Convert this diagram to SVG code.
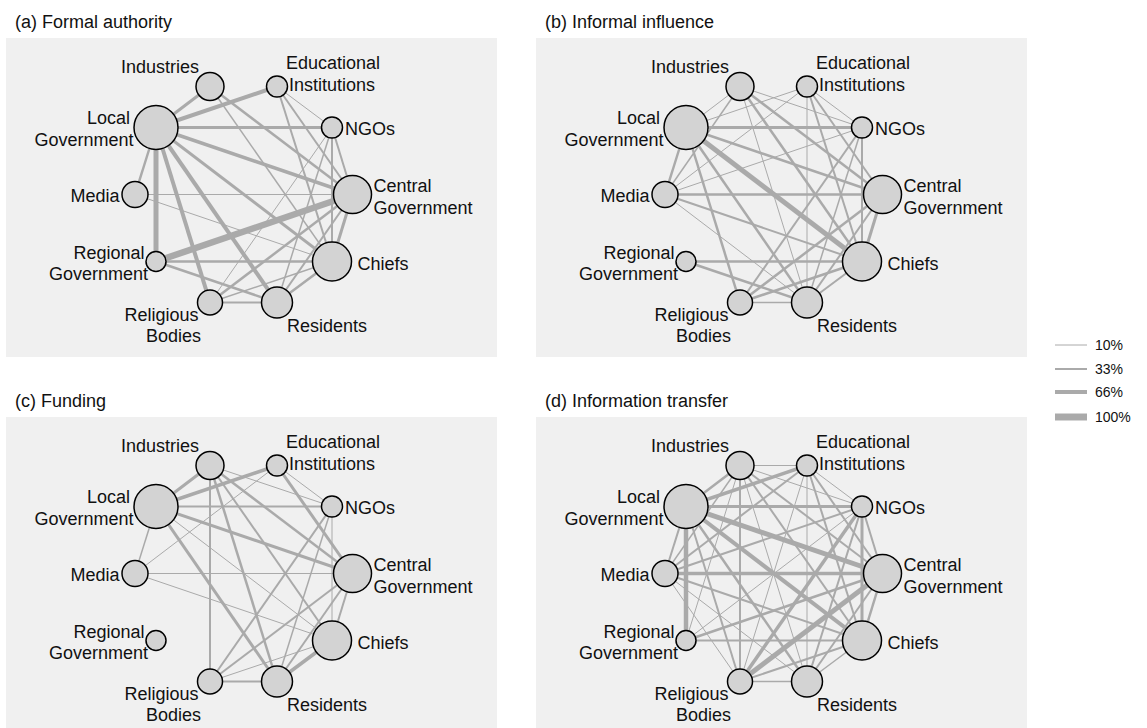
<svg xmlns="http://www.w3.org/2000/svg" width="1147" height="728" viewBox="0 0 1147 728">
<style>
.bg{fill:#f0f0f0}
.e line{stroke:#aaaaaa;stroke-linecap:butt}
.n{fill:#d3d3d3;stroke:#000;stroke-width:1.5}
text{font-family:"Liberation Sans",Arial,sans-serif;fill:#111}
.t{font-size:18px}
.ttl{font-size:18px}
.lg{font-size:14px}
</style>
<rect width="1147" height="728" fill="#fff"/>

<!-- Panel a -->
<g id="panel-a">
<text class="ttl" x="15" y="27.5">(a) Formal authority</text>
<rect class="bg" x="6" y="38" width="491" height="319"/>
<g id="a-edges" class="e">
<line x1="156" y1="127.5" x2="210" y2="86.5" stroke-width="3"/>
<line x1="156" y1="127.5" x2="277" y2="86.5" stroke-width="4"/>
<line x1="156" y1="127.5" x2="332" y2="127.5" stroke-width="3"/>
<line x1="156" y1="127.5" x2="352.5" y2="194.5" stroke-width="3.5"/>
<line x1="156" y1="127.5" x2="332" y2="261.5" stroke-width="3"/>
<line x1="156" y1="127.5" x2="277" y2="302.5" stroke-width="4"/>
<line x1="156" y1="127.5" x2="210" y2="302.5" stroke-width="4"/>
<line x1="156" y1="127.5" x2="156" y2="261.5" stroke-width="5"/>
<line x1="156" y1="127.5" x2="135" y2="194.5" stroke-width="2.5"/>
<line x1="210" y1="86.5" x2="352.5" y2="194.5" stroke-width="2.5"/>
<line x1="210" y1="86.5" x2="332" y2="261.5" stroke-width="1.5"/>
<line x1="277" y1="86.5" x2="332" y2="127.5" stroke-width="1"/>
<line x1="277" y1="86.5" x2="352.5" y2="194.5" stroke-width="2"/>
<line x1="277" y1="86.5" x2="332" y2="261.5" stroke-width="2"/>
<line x1="332" y1="127.5" x2="332" y2="261.5" stroke-width="2"/>
<line x1="332" y1="127.5" x2="277" y2="302.5" stroke-width="1.5"/>
<line x1="332" y1="127.5" x2="210" y2="302.5" stroke-width="1"/>
<line x1="332" y1="127.5" x2="352.5" y2="194.5" stroke-width="2"/>
<line x1="135" y1="194.5" x2="352.5" y2="194.5" stroke-width="1"/>
<line x1="135" y1="194.5" x2="332" y2="261.5" stroke-width="1"/>
<line x1="156" y1="261.5" x2="352.5" y2="194.5" stroke-width="6.5"/>
<line x1="156" y1="261.5" x2="332" y2="261.5" stroke-width="2.5"/>
<line x1="156" y1="261.5" x2="277" y2="302.5" stroke-width="2.5"/>
<line x1="210" y1="302.5" x2="352.5" y2="194.5" stroke-width="2.5"/>
<line x1="210" y1="302.5" x2="277" y2="302.5" stroke-width="2"/>
<line x1="210" y1="302.5" x2="332" y2="261.5" stroke-width="1.5"/>
<line x1="277" y1="302.5" x2="332" y2="261.5" stroke-width="2.5"/>
<line x1="277" y1="302.5" x2="352.5" y2="194.5" stroke-width="2"/>
<line x1="352.5" y1="194.5" x2="332" y2="261.5" stroke-width="3"/>
</g>
<g id="a-central"><circle class="n" cx="352.5" cy="194.5" r="19"/><text class="t" x="373.5" y="192">Central</text><text class="t" x="373.5" y="213.5">Government</text></g>
<g id="a-ngos"><circle class="n" cx="332" cy="127.5" r="10.5"/><text class="t" x="345" y="135">NGOs</text></g>
<g id="a-educational"><circle class="n" cx="277" cy="86.5" r="10.5"/><text class="t" x="286" y="69">Educational</text><text class="t" x="289" y="91">Institutions</text></g>
<g id="a-industries"><circle class="n" cx="210" cy="86.5" r="14"/><text class="t" x="199" y="73" text-anchor="end">Industries</text></g>
<g id="a-local"><circle class="n" cx="156" cy="127.5" r="22"/><text class="t" x="130" y="124" text-anchor="end">Local</text><text class="t" x="133.5" y="146" text-anchor="end">Government</text></g>
<g id="a-media"><circle class="n" cx="135" cy="194.5" r="13"/><text class="t" x="119.5" y="202" text-anchor="end">Media</text></g>
<g id="a-regional"><circle class="n" cx="156" cy="261.5" r="10"/><text class="t" x="144.5" y="259" text-anchor="end">Regional</text><text class="t" x="148" y="280" text-anchor="end">Government</text></g>
<g id="a-religious"><circle class="n" cx="210" cy="302.5" r="12.5"/><text class="t" x="198.5" y="321" text-anchor="end">Religious</text><text class="t" x="201" y="342" text-anchor="end">Bodies</text></g>
<g id="a-residents"><circle class="n" cx="277" cy="302.5" r="15.5"/><text class="t" x="287" y="332">Residents</text></g>
<g id="a-chiefs"><circle class="n" cx="332" cy="261.5" r="19.5"/><text class="t" x="357.5" y="270">Chiefs</text></g>
</g>

<!-- Panel b -->
<g id="panel-b" transform="translate(530,0)">
<text class="ttl" x="15" y="27.5">(b) Informal influence</text>
<rect class="bg" x="6" y="38" width="491" height="319"/>
<g id="b-edges" class="e">
<line x1="156" y1="127.5" x2="210" y2="86.5" stroke-width="1"/>
<line x1="156" y1="127.5" x2="277" y2="86.5" stroke-width="1"/>
<line x1="156" y1="127.5" x2="332" y2="127.5" stroke-width="3"/>
<line x1="156" y1="127.5" x2="352.5" y2="194.5" stroke-width="2.5"/>
<line x1="156" y1="127.5" x2="332" y2="261.5" stroke-width="5"/>
<line x1="156" y1="127.5" x2="277" y2="302.5" stroke-width="2.5"/>
<line x1="156" y1="127.5" x2="210" y2="302.5" stroke-width="2.5"/>
<line x1="156" y1="127.5" x2="135" y2="194.5" stroke-width="2.5"/>
<line x1="210" y1="86.5" x2="135" y2="194.5" stroke-width="1.5"/>
<line x1="210" y1="86.5" x2="332" y2="127.5" stroke-width="1"/>
<line x1="210" y1="86.5" x2="352.5" y2="194.5" stroke-width="2.5"/>
<line x1="210" y1="86.5" x2="332" y2="261.5" stroke-width="2.5"/>
<line x1="210" y1="86.5" x2="277" y2="302.5" stroke-width="1"/>
<line x1="277" y1="86.5" x2="135" y2="194.5" stroke-width="1"/>
<line x1="277" y1="86.5" x2="332" y2="127.5" stroke-width="1"/>
<line x1="277" y1="86.5" x2="352.5" y2="194.5" stroke-width="2"/>
<line x1="277" y1="86.5" x2="332" y2="261.5" stroke-width="2"/>
<line x1="277" y1="86.5" x2="277" y2="302.5" stroke-width="1"/>
<line x1="332" y1="127.5" x2="332" y2="261.5" stroke-width="2"/>
<line x1="332" y1="127.5" x2="210" y2="302.5" stroke-width="2"/>
<line x1="332" y1="127.5" x2="277" y2="302.5" stroke-width="1.5"/>
<line x1="332" y1="127.5" x2="135" y2="194.5" stroke-width="1"/>
<line x1="135" y1="194.5" x2="352.5" y2="194.5" stroke-width="2.5"/>
<line x1="135" y1="194.5" x2="332" y2="261.5" stroke-width="2"/>
<line x1="135" y1="194.5" x2="277" y2="302.5" stroke-width="1"/>
<line x1="156" y1="261.5" x2="332" y2="261.5" stroke-width="2.5"/>
<line x1="156" y1="261.5" x2="277" y2="302.5" stroke-width="2.5"/>
<line x1="210" y1="302.5" x2="277" y2="302.5" stroke-width="1.5"/>
<line x1="210" y1="302.5" x2="352.5" y2="194.5" stroke-width="2.5"/>
<line x1="210" y1="302.5" x2="332" y2="261.5" stroke-width="2.5"/>
<line x1="352.5" y1="194.5" x2="332" y2="261.5" stroke-width="3"/>
<line x1="277" y1="302.5" x2="352.5" y2="194.5" stroke-width="2"/>
<line x1="277" y1="302.5" x2="332" y2="261.5" stroke-width="2"/>
</g>
<g id="b-central"><circle class="n" cx="352.5" cy="194.5" r="19"/><text class="t" x="373.5" y="192">Central</text><text class="t" x="373.5" y="213.5">Government</text></g>
<g id="b-ngos"><circle class="n" cx="332" cy="127.5" r="10.5"/><text class="t" x="345" y="135">NGOs</text></g>
<g id="b-educational"><circle class="n" cx="277" cy="86.5" r="10.5"/><text class="t" x="286" y="69">Educational</text><text class="t" x="289" y="91">Institutions</text></g>
<g id="b-industries"><circle class="n" cx="210" cy="86.5" r="14"/><text class="t" x="199" y="73" text-anchor="end">Industries</text></g>
<g id="b-local"><circle class="n" cx="156" cy="127.5" r="22"/><text class="t" x="130" y="124" text-anchor="end">Local</text><text class="t" x="133.5" y="146" text-anchor="end">Government</text></g>
<g id="b-media"><circle class="n" cx="135" cy="194.5" r="13"/><text class="t" x="119.5" y="202" text-anchor="end">Media</text></g>
<g id="b-regional"><circle class="n" cx="156" cy="261.5" r="10"/><text class="t" x="144.5" y="259" text-anchor="end">Regional</text><text class="t" x="148" y="280" text-anchor="end">Government</text></g>
<g id="b-religious"><circle class="n" cx="210" cy="302.5" r="12.5"/><text class="t" x="198.5" y="321" text-anchor="end">Religious</text><text class="t" x="201" y="342" text-anchor="end">Bodies</text></g>
<g id="b-residents"><circle class="n" cx="277" cy="302.5" r="15.5"/><text class="t" x="287" y="332">Residents</text></g>
<g id="b-chiefs"><circle class="n" cx="332" cy="261.5" r="19.5"/><text class="t" x="357.5" y="270">Chiefs</text></g>
</g>

<!-- Panel c -->
<g id="panel-c" transform="translate(0,379)">
<text class="ttl" x="15" y="27.5">(c) Funding</text>
<rect class="bg" x="6" y="38" width="491" height="319"/>
<g id="c-edges" class="e">
<line x1="156" y1="127.5" x2="210" y2="86.5" stroke-width="3"/>
<line x1="156" y1="127.5" x2="277" y2="86.5" stroke-width="3.5"/>
<line x1="156" y1="127.5" x2="332" y2="127.5" stroke-width="2"/>
<line x1="156" y1="127.5" x2="352.5" y2="194.5" stroke-width="3"/>
<line x1="156" y1="127.5" x2="277" y2="302.5" stroke-width="3"/>
<line x1="156" y1="127.5" x2="135" y2="194.5" stroke-width="1.5"/>
<line x1="156" y1="127.5" x2="332" y2="261.5" stroke-width="1"/>
<line x1="210" y1="86.5" x2="210" y2="302.5" stroke-width="2"/>
<line x1="210" y1="86.5" x2="277" y2="302.5" stroke-width="2.5"/>
<line x1="210" y1="86.5" x2="332" y2="261.5" stroke-width="2"/>
<line x1="210" y1="86.5" x2="352.5" y2="194.5" stroke-width="2.5"/>
<line x1="210" y1="86.5" x2="332" y2="127.5" stroke-width="1"/>
<line x1="277" y1="86.5" x2="352.5" y2="194.5" stroke-width="3"/>
<line x1="277" y1="86.5" x2="332" y2="127.5" stroke-width="1"/>
<line x1="277" y1="86.5" x2="135" y2="194.5" stroke-width="1"/>
<line x1="332" y1="127.5" x2="210" y2="302.5" stroke-width="2"/>
<line x1="332" y1="127.5" x2="277" y2="302.5" stroke-width="1.5"/>
<line x1="332" y1="127.5" x2="332" y2="261.5" stroke-width="1"/>
<line x1="135" y1="194.5" x2="352.5" y2="194.5" stroke-width="1"/>
<line x1="135" y1="194.5" x2="332" y2="261.5" stroke-width="1"/>
<line x1="210" y1="302.5" x2="277" y2="302.5" stroke-width="2"/>
<line x1="210" y1="302.5" x2="352.5" y2="194.5" stroke-width="2"/>
<line x1="210" y1="302.5" x2="332" y2="261.5" stroke-width="1"/>
<line x1="277" y1="302.5" x2="332" y2="261.5" stroke-width="3.5"/>
<line x1="277" y1="302.5" x2="352.5" y2="194.5" stroke-width="2"/>
<line x1="352.5" y1="194.5" x2="332" y2="261.5" stroke-width="2"/>
</g>
<g id="c-central"><circle class="n" cx="352.5" cy="194.5" r="19"/><text class="t" x="373.5" y="192">Central</text><text class="t" x="373.5" y="213.5">Government</text></g>
<g id="c-ngos"><circle class="n" cx="332" cy="127.5" r="10.5"/><text class="t" x="345" y="135">NGOs</text></g>
<g id="c-educational"><circle class="n" cx="277" cy="86.5" r="10.5"/><text class="t" x="286" y="69">Educational</text><text class="t" x="289" y="91">Institutions</text></g>
<g id="c-industries"><circle class="n" cx="210" cy="86.5" r="14"/><text class="t" x="199" y="73" text-anchor="end">Industries</text></g>
<g id="c-local"><circle class="n" cx="156" cy="127.5" r="22"/><text class="t" x="130" y="124" text-anchor="end">Local</text><text class="t" x="133.5" y="146" text-anchor="end">Government</text></g>
<g id="c-media"><circle class="n" cx="135" cy="194.5" r="13"/><text class="t" x="119.5" y="202" text-anchor="end">Media</text></g>
<g id="c-regional"><circle class="n" cx="156" cy="261.5" r="10"/><text class="t" x="144.5" y="259" text-anchor="end">Regional</text><text class="t" x="148" y="280" text-anchor="end">Government</text></g>
<g id="c-religious"><circle class="n" cx="210" cy="302.5" r="12.5"/><text class="t" x="198.5" y="321" text-anchor="end">Religious</text><text class="t" x="201" y="342" text-anchor="end">Bodies</text></g>
<g id="c-residents"><circle class="n" cx="277" cy="302.5" r="15.5"/><text class="t" x="287" y="332">Residents</text></g>
<g id="c-chiefs"><circle class="n" cx="332" cy="261.5" r="19.5"/><text class="t" x="357.5" y="270">Chiefs</text></g>
</g>

<!-- Panel d -->
<g id="panel-d" transform="translate(530,379)">
<text class="ttl" x="15" y="27.5">(d) Information transfer</text>
<rect class="bg" x="6" y="38" width="491" height="319"/>
<g id="d-edges" class="e">
<line x1="156" y1="127.5" x2="210" y2="86.5" stroke-width="2.5"/>
<line x1="156" y1="127.5" x2="277" y2="86.5" stroke-width="3.5"/>
<line x1="156" y1="127.5" x2="332" y2="127.5" stroke-width="3"/>
<line x1="156" y1="127.5" x2="352.5" y2="194.5" stroke-width="5"/>
<line x1="156" y1="127.5" x2="332" y2="261.5" stroke-width="4"/>
<line x1="156" y1="127.5" x2="277" y2="302.5" stroke-width="2.5"/>
<line x1="156" y1="127.5" x2="210" y2="302.5" stroke-width="2"/>
<line x1="156" y1="127.5" x2="135" y2="194.5" stroke-width="2"/>
<line x1="156" y1="127.5" x2="156" y2="261.5" stroke-width="4.5"/>
<line x1="210" y1="86.5" x2="277" y2="86.5" stroke-width="1"/>
<line x1="210" y1="86.5" x2="135" y2="194.5" stroke-width="1.5"/>
<line x1="210" y1="86.5" x2="156" y2="261.5" stroke-width="1"/>
<line x1="210" y1="86.5" x2="210" y2="302.5" stroke-width="2"/>
<line x1="210" y1="86.5" x2="277" y2="302.5" stroke-width="1"/>
<line x1="210" y1="86.5" x2="332" y2="261.5" stroke-width="2"/>
<line x1="210" y1="86.5" x2="352.5" y2="194.5" stroke-width="2"/>
<line x1="210" y1="86.5" x2="332" y2="127.5" stroke-width="1"/>
<line x1="277" y1="86.5" x2="135" y2="194.5" stroke-width="2"/>
<line x1="277" y1="86.5" x2="332" y2="127.5" stroke-width="1"/>
<line x1="277" y1="86.5" x2="352.5" y2="194.5" stroke-width="2"/>
<line x1="277" y1="86.5" x2="332" y2="261.5" stroke-width="2"/>
<line x1="277" y1="86.5" x2="277" y2="302.5" stroke-width="1"/>
<line x1="277" y1="86.5" x2="210" y2="302.5" stroke-width="1"/>
<line x1="332" y1="127.5" x2="135" y2="194.5" stroke-width="2"/>
<line x1="332" y1="127.5" x2="352.5" y2="194.5" stroke-width="2"/>
<line x1="332" y1="127.5" x2="332" y2="261.5" stroke-width="3"/>
<line x1="332" y1="127.5" x2="210" y2="302.5" stroke-width="3.5"/>
<line x1="332" y1="127.5" x2="277" y2="302.5" stroke-width="2"/>
<line x1="332" y1="127.5" x2="156" y2="261.5" stroke-width="1"/>
<line x1="135" y1="194.5" x2="352.5" y2="194.5" stroke-width="3.5"/>
<line x1="135" y1="194.5" x2="332" y2="261.5" stroke-width="2"/>
<line x1="135" y1="194.5" x2="277" y2="302.5" stroke-width="1"/>
<line x1="135" y1="194.5" x2="210" y2="302.5" stroke-width="1"/>
<line x1="156" y1="261.5" x2="352.5" y2="194.5" stroke-width="2.5"/>
<line x1="156" y1="261.5" x2="332" y2="261.5" stroke-width="2"/>
<line x1="210" y1="302.5" x2="352.5" y2="194.5" stroke-width="5"/>
<line x1="210" y1="302.5" x2="332" y2="261.5" stroke-width="2"/>
<line x1="210" y1="302.5" x2="277" y2="302.5" stroke-width="1.5"/>
<line x1="352.5" y1="194.5" x2="332" y2="261.5" stroke-width="2.5"/>
<line x1="277" y1="302.5" x2="352.5" y2="194.5" stroke-width="2"/>
<line x1="277" y1="302.5" x2="332" y2="261.5" stroke-width="1.5"/>
</g>
<g id="d-central"><circle class="n" cx="352.5" cy="194.5" r="19"/><text class="t" x="373.5" y="192">Central</text><text class="t" x="373.5" y="213.5">Government</text></g>
<g id="d-ngos"><circle class="n" cx="332" cy="127.5" r="10.5"/><text class="t" x="345" y="135">NGOs</text></g>
<g id="d-educational"><circle class="n" cx="277" cy="86.5" r="10.5"/><text class="t" x="286" y="69">Educational</text><text class="t" x="289" y="91">Institutions</text></g>
<g id="d-industries"><circle class="n" cx="210" cy="86.5" r="14"/><text class="t" x="199" y="73" text-anchor="end">Industries</text></g>
<g id="d-local"><circle class="n" cx="156" cy="127.5" r="22"/><text class="t" x="130" y="124" text-anchor="end">Local</text><text class="t" x="133.5" y="146" text-anchor="end">Government</text></g>
<g id="d-media"><circle class="n" cx="135" cy="194.5" r="13"/><text class="t" x="119.5" y="202" text-anchor="end">Media</text></g>
<g id="d-regional"><circle class="n" cx="156" cy="261.5" r="10"/><text class="t" x="144.5" y="259" text-anchor="end">Regional</text><text class="t" x="148" y="280" text-anchor="end">Government</text></g>
<g id="d-religious"><circle class="n" cx="210" cy="302.5" r="12.5"/><text class="t" x="198.5" y="321" text-anchor="end">Religious</text><text class="t" x="201" y="342" text-anchor="end">Bodies</text></g>
<g id="d-residents"><circle class="n" cx="277" cy="302.5" r="15.5"/><text class="t" x="287" y="332">Residents</text></g>
<g id="d-chiefs"><circle class="n" cx="332" cy="261.5" r="19.5"/><text class="t" x="357.5" y="270">Chiefs</text></g>
</g>

<!-- Legend -->
<g id="legend">
<g class="e">
<line x1="1055" y1="345" x2="1087" y2="345" stroke-width="1"/>
<line x1="1055" y1="369" x2="1087" y2="369" stroke-width="2"/>
<line x1="1055" y1="392" x2="1087" y2="392" stroke-width="4"/>
<line x1="1055" y1="417" x2="1087" y2="417" stroke-width="7"/>
</g>
<text class="lg" x="1095" y="350">10%</text>
<text class="lg" x="1095" y="374">33%</text>
<text class="lg" x="1095" y="397">66%</text>
<text class="lg" x="1095" y="422">100%</text>
</g>
</svg>
